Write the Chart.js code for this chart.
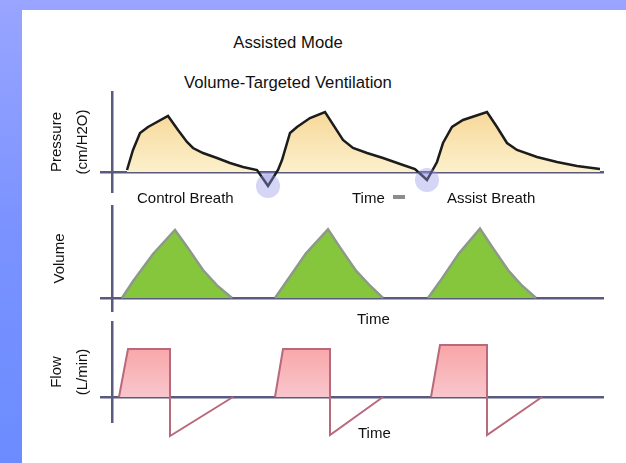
<!DOCTYPE html>
<html>
<head>
<meta charset="utf-8">
<script src="https://cdn.jsdelivr.net/npm/chart.js@4/dist/chart.umd.min.js"></script>
<style>
  html, body { margin: 0; padding: 0; }
  body {
    width: 626px; height: 463px; position: relative; overflow: hidden;
    background: linear-gradient(180deg, #99a5ff 0%, #7a92ff 50%, #6b8cff 100%);
    font-family: "Liberation Sans", Arial, sans-serif; color: #111;
  }
  #panel { position: absolute; left: 22px; top: 10px; right: 0; bottom: 0; background: #fff; }
  canvas { position: absolute; left: 0; }
  .title { position: absolute; left: 288px; font-size: 16.7px; transform: translate(-50%, -50%); white-space: nowrap; }
  .lbl { position: absolute; font-size: 15px; line-height: 1; transform: translateY(-50%); white-space: nowrap; }
  #dash { position: absolute; left: 393px; top: 195px; width: 12px; height: 4px; background: #8c8c8c; }
</style>
</head>
<body>
<div id="panel"></div>
<div class="title" style="top:43px">Assisted Mode</div>
<div class="title" style="top:83px">Volume-Targeted Ventilation</div>

<canvas id="pressureChart" width="626" height="125" style="top:80px"></canvas>
<canvas id="volumeChart" width="626" height="120" style="top:200px"></canvas>
<canvas id="flowChart" width="626" height="150" style="top:310px"></canvas>

<div class="lbl" style="left:137px; top:197px">Control Breath</div>
<div class="lbl" style="left:352px; top:197px">Time</div>
<div id="dash"></div>
<div class="lbl" style="left:447px; top:197px">Assist Breath</div>
<div class="lbl" style="left:357px; top:318px">Time</div>
<div class="lbl" style="left:358px; top:432px">Time</div>

<script>
// time axis (arbitrary units, y axis sits at 0)
const timeMin = -1.2;
const timeMax = 49.2;

// pressure trace, cm H2O
const pressureTime = [1.5, 2.1, 2.8, 3.6, 5.6, 6.6, 7.5, 8.1, 9.1, 10.5, 11.8, 13.1, 14.5, 15.6, 16.6,
  17.0, 17.8, 18.5, 19.8, 21.3, 23.1, 24.1, 25.5, 27.1, 29.1, 30.3, 31.5, 32.5, 33.1, 34.0,
  35.1, 37.5, 38.5, 39.5, 40.5, 42.5, 44.5, 46.5, 48.8];
const pressureValues = [1, 11, 19.5, 22.5, 28, 21, 15, 12, 9.5, 7, 4.5, 2.5, 1, -7, 1,
  6, 19.5, 22.5, 27, 30, 16, 12, 9.5, 7, 3.5, 1.5, -4, 5, 14.5, 22.5,
  26, 30, 22.5, 14.5, 11, 7.5, 5, 3, 1.5];

// volume trace, mL (null = gap between breaths)
const volumeTime = [1.0, 2.1, 4.1, 6.3, 7.5, 9.1, 10.5, 12.0, 14.0,
  16.3, 17.5, 19.4, 21.6, 22.8, 24.4, 25.7, 27.1, 29.5,
  31.6, 32.8, 34.7, 36.8, 38.0, 39.6, 40.9, 42.4];
const volumeValues = [0, 125, 330, 510, 385, 210, 95, 0, null,
  0, 130, 335, 515, 380, 205, 100, 0, null,
  0, 125, 335, 520, 385, 210, 100, 0];

// flow trace, L/min
const flowTime = [0.7, 1.6, 5.8, 5.8, 12.1, 14.0, 16.3, 17.1, 21.8, 21.8, 27.1, 29.5, 31.9, 32.8, 37.5, 37.5, 43.0];
const flowValues = [0, 48, 48, -39, 0, null, 0, 48, 48, -38, 0, null, 0, 52, 52, -38, 0];

const axisColor = '#5a5a80';
const fontFamily = '"Liberation Sans", Arial, sans-serif';

function toPoints(xs, ys) {
  return xs.map((x, i) => ({x: x, y: ys[i]}));
}

// vertical gradient from top of the chart area down to the zero line
function vGradient(chart, top, bottom) {
  const area = chart.chartArea;
  if (!area) return top;
  const g = chart.ctx.createLinearGradient(0, area.top, 0, chart.scales.y.getPixelForValue(0));
  g.addColorStop(0, top);
  g.addColorStop(1, bottom);
  return g;
}

function traceOptions(yMin, yMax, title, titlePad, lineH, padding) {
  return {
    responsive: false,
    animation: false,
    layout: {padding: padding},
    plugins: {legend: {display: false}, tooltip: {enabled: false}},
    scales: {
      x: {
        type: 'linear', min: timeMin, max: timeMax,
        afterBuildTicks: s => { s.ticks = [{value: 0}]; },
        ticks: {display: false},
        border: {display: false},
        grid: {color: axisColor, lineWidth: 2.5, drawTicks: false}
      },
      y: {
        type: 'linear', min: yMin, max: yMax,
        afterBuildTicks: s => { s.ticks = [{value: 0}]; },
        afterFit: s => { s.width = 60; },
        ticks: {display: false},
        border: {display: false},
        grid: {color: axisColor, lineWidth: 2.5, drawTicks: false},
        title: {
          display: true, text: title, color: '#111',
          font: {family: fontFamily, size: 15, lineHeight: lineH},
          padding: {top: titlePad, bottom: 0}
        }
      }
    }
  };
}

// Pressure
new Chart(document.getElementById('pressureChart'), {
  type: 'line',
  data: {
    datasets: [{
      data: toPoints(pressureTime, pressureValues),
      borderColor: '#1c1c1c',
      borderWidth: 2.5,
      tension: 0,
      clip: false,
      backgroundColor: ctx => vGradient(ctx.chart, '#f5d088', '#fcf0cc'),
      fill: {target: 'origin', below: 'rgba(150,150,225,0.35)'},
      pointRadius: ctx => (ctx.raw && ctx.raw.y < 0 ? 12 : 0),
      pointBackgroundColor: 'rgba(150,150,230,0.4)',
      pointBorderWidth: 0,
      pointHoverRadius: 0
    }]
  },
  options: traceOptions(-10.5, 40.5, ['Pressure', '(cm/H2O)'], 4, '26px', {left: 40, right: 22, top: 11, bottom: 12})
});

// Volume
new Chart(document.getElementById('volumeChart'), {
  type: 'line',
  data: {
    datasets: [{
      data: toPoints(volumeTime, volumeValues),
      borderColor: '#8d9a88',
      borderWidth: 2.5,
      tension: 0,
      spanGaps: false,
      backgroundColor: '#86c63c',
      fill: 'origin',
      pointRadius: 0
    }]
  },
  options: traceOptions(-105, 697.5, 'Volume', 11, '18px', {left: 40, right: 22, top: 5, bottom: 8})
});

// Flow
new Chart(document.getElementById('flowChart'), {
  type: 'line',
  data: {
    datasets: [{
      data: toPoints(flowTime, flowValues),
      borderColor: '#b86a7c',
      borderWidth: 2,
      tension: 0,
      spanGaps: false,
      clip: false,
      backgroundColor: ctx => vGradient(ctx.chart, '#f99696', '#f8c6cc'),
      fill: {target: 'origin', below: 'rgba(0,0,0,0)'},
      pointRadius: 0
    }]
  },
  options: traceOptions(-26, 76, ['Flow', '(L/min)'], 4, '26px', {left: 40, right: 22, top: 11, bottom: 37})
});
</script>
</body>
</html>
